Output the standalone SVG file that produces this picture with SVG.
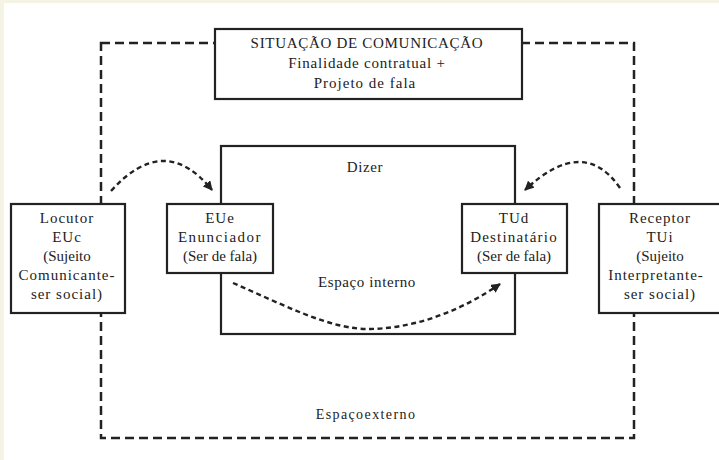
<svg xmlns="http://www.w3.org/2000/svg" width="719" height="460" viewBox="0 0 719 460">
<style>
  text { font-family: "Liberation Serif", "Times New Roman", serif; font-size: 15px; fill: #222; text-anchor: middle; }
  .box { fill: #fff; stroke: #222; stroke-width: 2.2; }
  .outer { fill: none; stroke: #222; stroke-width: 2.5; stroke-dasharray: 9 5; }
  .arrow { fill: none; stroke: #222; stroke-width: 2.4; stroke-dasharray: 5 3.5; }
  .sp { letter-spacing: 1px; }
</style>
<defs>
  <marker id="ah" viewBox="0 0 10 10" refX="9" refY="5" markerWidth="4" markerHeight="4" markerUnits="strokeWidth" orient="auto">
    <path d="M0,0 L10,5 L0,10 Z" fill="#222"/>
  </marker>
</defs>
<rect x="0" y="0" width="719" height="460" fill="#f5f3e3"/>
<rect x="4" y="3" width="715" height="457" fill="#fff"/>

<g id="espaco-externo">
  <rect class="outer" x="101" y="43" width="533" height="395"/>
  <text x="366" y="419" style="font-size:14px; letter-spacing:1.4px">Espaçoexterno</text>
</g>

<g id="situacao">
  <rect class="box" x="215" y="29" width="307" height="70"/>
  <text x="367" y="48" style="letter-spacing:0.7px">SITUAÇÃO DE COMUNICAÇÃO</text>
  <text x="367" y="68" style="letter-spacing:0.8px">Finalidade contratual +</text>
  <text x="365" y="88" class="sp">Projeto de fala</text>
</g>

<g id="espaco-interno">
  <rect class="box" x="221" y="146" width="294" height="188"/>
  <text x="365" y="172" style="letter-spacing:0.6px">Dizer</text>
  <text x="367" y="287" style="letter-spacing:0.6px">Espaço interno</text>
</g>

<g id="connectors">
  <path class="arrow" d="M111,191 Q164.5,131.5 212,190" marker-end="url(#ah)"/>
  <path class="arrow" d="M620,188 Q583.5,135 525,190" marker-end="url(#ah)"/>
  <path class="arrow" d="M233,283 C280,303 330,330 370,329 C420,328 465,308 500,284" marker-end="url(#ah)"/>
</g>

<g id="locutor">
  <rect class="box" x="11" y="204" width="114" height="109"/>
  <text x="67" y="223" class="sp">Locutor</text>
  <text x="67" y="242" class="sp">EUc</text>
  <text x="67" y="261">(Sujeito</text>
  <text x="67" y="280" class="sp">Comunicante-</text>
  <text x="67" y="299" class="sp">ser social)</text>
</g>

<g id="eue">
  <rect class="box" x="167" y="204" width="106" height="69"/>
  <text x="220" y="223" class="sp">EUe</text>
  <text x="220" y="242" style="letter-spacing:1.5px">Enunciador</text>
  <text x="220" y="261">(Ser de fala)</text>
</g>

<g id="tud">
  <rect class="box" x="462" y="204" width="105" height="69"/>
  <text x="514" y="223" class="sp">TUd</text>
  <text x="514" y="242" style="letter-spacing:1.2px">Destinatário</text>
  <text x="514" y="261">(Ser de fala)</text>
</g>

<g id="receptor">
  <rect class="box" x="599" y="204" width="125" height="109"/>
  <text x="660" y="223" class="sp">Receptor</text>
  <text x="660" y="242" class="sp">TUi</text>
  <text x="660" y="261">(Sujeito</text>
  <text x="656" y="280" class="sp">Interpretante-</text>
  <text x="660" y="299" class="sp">ser social)</text>
</g>
</svg>
